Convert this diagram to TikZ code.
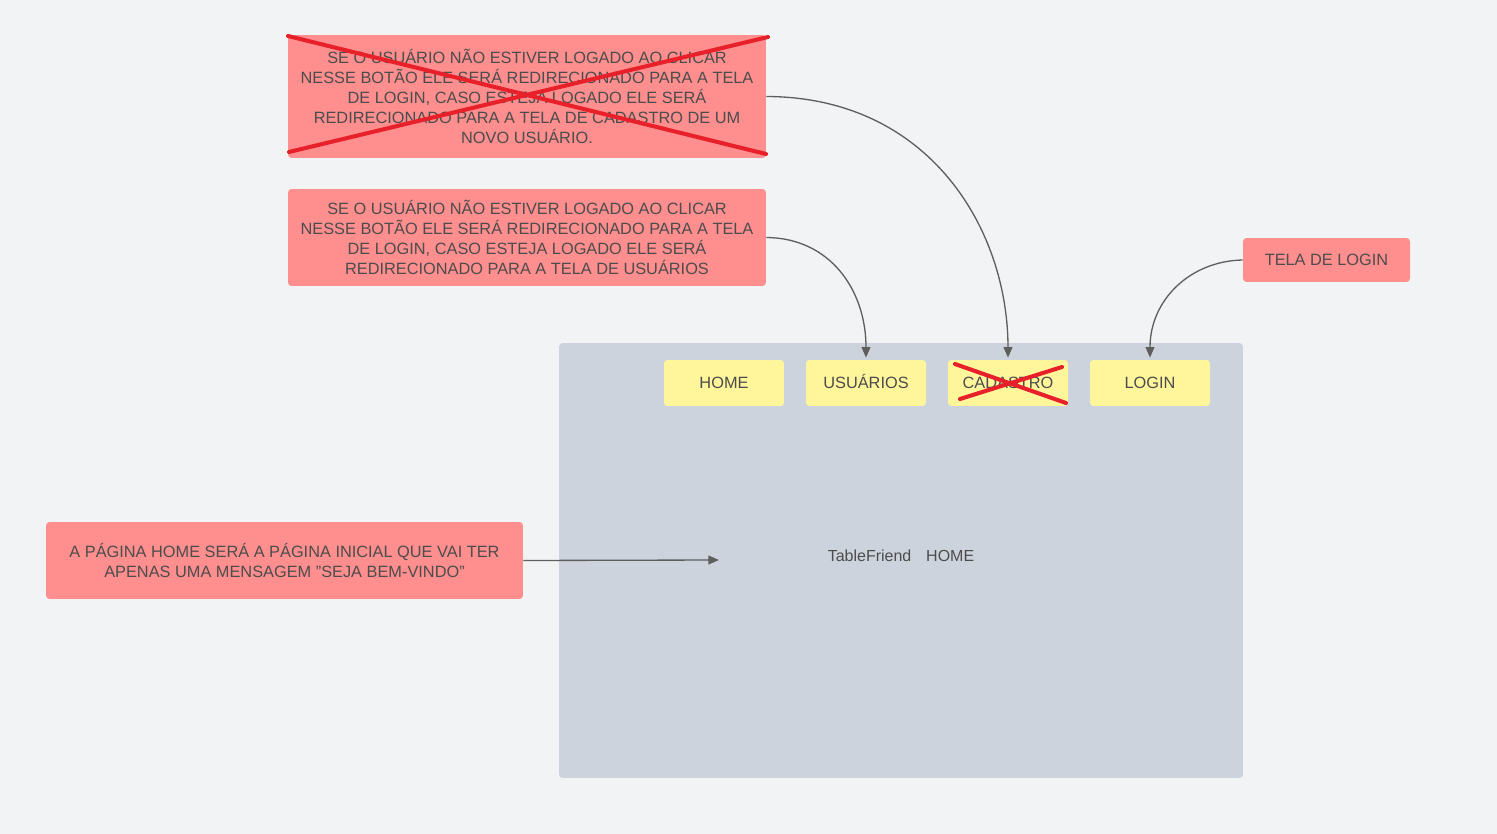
\documentclass[tikz,border=0pt]{standalone}
\usepackage{fontspec}
\setmainfont{Liberation Sans}
\usetikzlibrary{arrows.meta}
\definecolor{bg}{HTML}{F2F3F5}
\definecolor{panel}{HTML}{CDD3DC}
\definecolor{note}{HTML}{FF8E8E}
\definecolor{btn}{HTML}{FFF69C}
\definecolor{txt}{HTML}{4C4C4C}
\definecolor{cross}{HTML}{E8202A}
\definecolor{arr}{HTML}{5E5E5E}
\tikzset{
  notebox/.style={fill=note, rounded corners=2pt, inner sep=0pt, align=center, text=txt,
    font=\fontsize{9.3}{11.34}\selectfont},
  btnbox/.style={fill=btn, rounded corners=2pt, inner sep=0pt, text=txt,
    text height=6.7pt, text depth=0pt,
    minimum width=2.4cm, minimum height=0.92cm, font=\fontsize{9.3}{11}\selectfont},
  crossline/.style={draw=cross, line width=2.3pt, line cap=round},
  conn/.style={draw=arr, line width=0.75pt, -{Triangle[length=6pt,width=5pt]}}
}
\begin{document}
\begin{tikzpicture}[x=0.02cm,y=-0.02cm]
\fill[bg] (0,0) rectangle (1497,834);
\useasboundingbox (0,0) rectangle (1497,834);

% panel
\node[fill=panel, rounded corners=2pt, minimum width=13.68cm, minimum height=8.7cm, inner sep=0pt] (panel) at (901,560.5) {};

% buttons
\node[btnbox] (home) at (724,383) {HOME};
\node[btnbox] (usu) at (866,383) {USUÁRIOS};
\node[btnbox] (cad) at (1008,383) {CADASTRO};
\node[btnbox] (login) at (1150,383) {LOGIN};

\node[text=txt, font=\fontsize{9.1}{11}\selectfont] (title) at (901,556) {TableFriend\hspace{8.5pt}HOME};

% notes
\node[notebox, minimum width=9.56cm, minimum height=2.46cm] (n1) at (527,96.5)
 {\raisebox{0pt}[0pt][0pt]{}SE O USUÁRIO NÃO ESTIVER LOGADO AO CLICAR\\NESSE BOTÃO ELE SERÁ REDIRECIONADO PARA A TELA\\DE LOGIN, CASO ESTEJA LOGADO ELE SERÁ\\REDIRECIONADO PARA A TELA DE CADASTRO DE UM\\NOVO USUÁRIO.};
\node[notebox, minimum width=9.56cm, minimum height=1.94cm] (n2) at (527,237.5)
 {SE O USUÁRIO NÃO ESTIVER LOGADO AO CLICAR\\NESSE BOTÃO ELE SERÁ REDIRECIONADO PARA A TELA\\DE LOGIN, CASO ESTEJA LOGADO ELE SERÁ\\REDIRECIONADO PARA A TELA DE USUÁRIOS};
\node[notebox, minimum width=3.34cm, minimum height=0.88cm, text height=6.7pt, text depth=0pt] (n3) at (1326.5,260) {TELA DE LOGIN};
\node[notebox, minimum width=9.54cm, minimum height=1.54cm] (n4) at (284.5,560.5)
 {A PÁGINA HOME SERÁ A PÁGINA INICIAL QUE VAI TER\\APENAS UMA MENSAGEM "SEJA BEM-VINDO"};

% crosses
\draw[crossline] (288,36) -- (766,154);
\draw[crossline] (289,152) -- (768,37);
\draw[crossline] (955,364) -- (1066,403);
\draw[crossline] (960,399) -- (1062,367);

% connectors
\coordinate (tgt) at (719,560);
\draw[conn] (n1.east) .. controls (930,97) and (1008,230) .. ([yshift=0.04cm]cad.north);
\draw[conn] (n2.east) .. controls (830,238) and (866,290) .. ([yshift=0.04cm]usu.north);
\draw[conn] (n3.west) .. controls (1190,261) and (1150,300) .. ([yshift=0.04cm]login.north);
\draw[conn] (n4.east) -- (tgt);
\end{tikzpicture}
\end{document}
